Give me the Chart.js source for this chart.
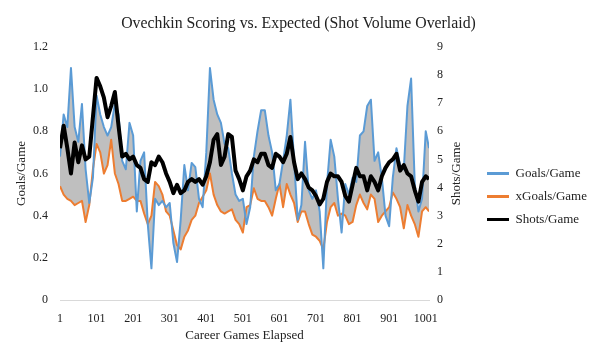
<!DOCTYPE html>
<html>
<head>
<meta charset="utf-8">
<script src="https://cdn.jsdelivr.net/npm/chart.js@4.4.1/dist/chart.umd.min.js"></script>
<style>
  html, body { margin: 0; padding: 0; background: #fff; }
  #wrap { width: 598px; height: 348px; }
</style>
</head>
<body>
<div id="wrap"><canvas id="chart"></canvas></div>
<script>
// career game number for each sample (every ~10 games)
const games = [1, 11, 21, 31, 41, 51, 61, 71, 81, 91,
  101, 111, 121, 131, 141, 151, 161, 171, 181, 191,
  201, 211, 221, 231, 241, 251, 261, 271, 281, 291,
  301, 311, 321, 331, 341, 351, 361, 371, 381, 391,
  401, 411, 421, 431, 441, 451, 461, 471, 481, 491,
  501, 511, 521, 531, 541, 551, 561, 571, 581, 591,
  601, 611, 621, 631, 641, 651, 661, 671, 681, 691,
  701, 711, 721, 731, 741, 751, 761, 771, 781, 791,
  801, 811, 821, 831, 841, 851, 861, 871, 881, 891,
  901, 911, 921, 931, 941, 951, 961, 971, 981, 991,
  1001, 1010];

const goalsPerGame = [0.68, 0.88, 0.82, 1.10, 0.82, 0.75, 0.93, 0.62, 0.46, 0.58,
  0.97, 0.88, 0.82, 0.78, 0.82, 0.93, 0.88, 0.66, 0.62, 0.84,
  0.78, 0.42, 0.66, 0.70, 0.36, 0.15, 0.48, 0.45, 0.47, 0.44,
  0.46, 0.27, 0.18, 0.38, 0.64, 0.52, 0.65, 0.63, 0.48, 0.44,
  0.70, 1.10, 0.95, 0.88, 0.84, 0.74, 0.72, 0.60, 0.50, 0.47,
  0.48, 0.36, 0.44, 0.68, 0.80, 0.90, 0.90, 0.78, 0.70, 0.52,
  0.55, 0.66, 0.78, 0.95, 0.66, 0.38, 0.45, 0.75, 0.52, 0.48,
  0.52, 0.42, 0.15, 0.55, 0.76, 0.68, 0.48, 0.32, 0.55, 0.50,
  0.58, 0.56, 0.78, 0.80, 0.92, 0.95, 0.66, 0.70, 0.58, 0.40,
  0.35, 0.58, 0.72, 0.64, 0.62, 0.92, 1.05, 0.55, 0.42, 0.48,
  0.80, 0.72];

const xGoalsPerGame = [0.54, 0.50, 0.48, 0.47, 0.45, 0.46, 0.47, 0.37, 0.45, 0.62,
  0.74, 0.70, 0.60, 0.64, 0.76, 0.60, 0.55, 0.47, 0.47, 0.48,
  0.49, 0.47, 0.47, 0.41, 0.36, 0.40, 0.56, 0.54, 0.50, 0.42,
  0.40, 0.33, 0.26, 0.24, 0.30, 0.33, 0.38, 0.40, 0.46, 0.49,
  0.52, 0.60, 0.50, 0.45, 0.42, 0.41, 0.42, 0.43, 0.38, 0.36,
  0.32, 0.44, 0.45, 0.53, 0.48, 0.47, 0.47, 0.44, 0.40, 0.48,
  0.55, 0.44, 0.55, 0.50, 0.46, 0.37, 0.42, 0.42, 0.36, 0.31,
  0.30, 0.28, 0.24, 0.37, 0.44, 0.46, 0.40, 0.41, 0.40, 0.36,
  0.37, 0.45, 0.50, 0.46, 0.43, 0.50, 0.48, 0.37, 0.40, 0.42,
  0.44, 0.51, 0.48, 0.44, 0.34, 0.45, 0.40, 0.36, 0.30, 0.42,
  0.44, 0.42];

const shotsPerGame = [5.4, 6.2, 5.4, 4.5, 5.6, 4.9, 5.5, 5.0, 5.1, 6.5,
  7.9, 7.6, 7.2, 6.5, 6.9, 7.4, 6.2, 5.1, 5.2, 5.0,
  5.1, 4.8, 4.7, 4.3, 4.2, 4.9, 4.8, 5.1, 4.9, 4.5,
  4.2, 3.8, 4.1, 3.8, 3.9, 4.2, 4.3, 4.2, 4.3, 4.1,
  4.4, 4.9, 5.7, 5.9, 4.8, 5.1, 5.9, 5.8, 4.6, 4.3,
  3.9, 4.4, 4.6, 5.0, 4.9, 5.2, 5.2, 4.8, 4.7, 5.2,
  5.1, 4.9, 5.2, 5.8, 4.9, 4.3, 4.5, 4.3, 4.0, 3.9,
  3.7, 3.4, 3.6, 4.2, 4.5, 4.4, 4.4, 4.2, 3.7, 3.5,
  4.1, 4.7, 4.4, 4.4, 3.9, 4.4, 4.2, 3.9, 4.4, 4.7,
  4.9, 5.0, 5.2, 4.6, 4.8, 4.5, 4.4, 3.9, 3.5, 4.2,
  4.4, 4.3];

const gameTicks = [1, 101, 201, 301, 401, 501, 601, 701, 801, 901, 1001];

const serif = "'Liberation Serif', 'DejaVu Serif', serif";
const textColor = '#222';

function pts(values) {
  return games.map((g, i) => ({ x: g, y: values[i] }));
}

// right axis title reads bottom-to-top like the left one
const rightTitle = {
  id: 'rightTitle',
  afterDraw(chart) {
    const ctx = chart.ctx;
    const area = chart.chartArea;
    ctx.save();
    ctx.translate(area.right + 28, (area.top + area.bottom) / 2);
    ctx.rotate(-Math.PI / 2);
    ctx.font = "13px " + serif;
    ctx.fillStyle = textColor;
    ctx.textAlign = 'center';
    ctx.textBaseline = 'middle';
    ctx.fillText('Shots/Game', 0, 0);
    ctx.restore();
  }
};

new Chart(document.getElementById('chart'), {
  type: 'line',
  data: {
    datasets: [
      {
        label: 'Goals/Game',
        data: pts(goalsPerGame),
        borderColor: '#5B9BD5',
        backgroundColor: '#BFBFBF',
        borderWidth: 2,
        fill: 1,
        yAxisID: 'y',
        order: 1
      },
      {
        label: 'xGoals/Game',
        data: pts(xGoalsPerGame),
        borderColor: '#ED7D31',
        backgroundColor: '#ED7D31',
        borderWidth: 2,
        fill: false,
        yAxisID: 'y',
        order: 2
      },
      {
        label: 'Shots/Game',
        data: pts(shotsPerGame),
        borderColor: '#000000',
        backgroundColor: '#000000',
        borderWidth: 4,
        fill: false,
        yAxisID: 'y2',
        order: 0
      }
    ]
  },
  options: {
    responsive: true,
    maintainAspectRatio: false,
    animation: false,
    devicePixelRatio: 1,
    layout: { padding: { left: 0, right: 1, top: 0, bottom: 0 } },
    elements: {
      point: { radius: 0, hoverRadius: 0 },
      line: { tension: 0, borderJoinStyle: 'round' }
    },
    plugins: {
      filler: { drawTime: 'beforeDatasetsDraw' },
      tooltip: { enabled: false },
      title: {
        display: true,
        text: 'Ovechkin Scoring vs. Expected (Shot Volume Overlaid)',
        color: textColor,
        font: { family: serif, size: 15.8, weight: 'normal' },
        padding: { top: 14, bottom: 14 }
      },
      legend: {
        position: 'right',
        maxWidth: 140,
        title: {
          display: true,
          text: ' ',
          font: { family: serif, size: 13 },
          padding: 14.7
        },
        labels: {
          color: textColor,
          font: { family: serif, size: 13 },
          boxWidth: 22,
          boxHeight: 3,
          padding: 10,
          sort: (a, b) => a.datasetIndex - b.datasetIndex,
          generateLabels(chart) {
            const items = Chart.defaults.plugins.legend.labels.generateLabels(chart);
            items.forEach(it => {
              it.fillStyle = it.strokeStyle;
              it.lineWidth = 0;
            });
            return items;
          }
        }
      }
    },
    scales: {
      x: {
        type: 'linear',
        min: 1,
        max: 1010,
        afterBuildTicks(scale) {
          scale.ticks = gameTicks.map(v => ({ value: v }));
        },
        afterFit(scale) { scale.height = 48; },
        grid: { display: false, drawTicks: false },
        border: { display: true, color: '#D9D9D9', width: 1 },
        ticks: {
          autoSkip: false,
          maxRotation: 0,
          padding: 12,
          color: textColor,
          font: { family: serif, size: 12 },
          callback: v => String(v)
        },
        title: {
          display: true,
          text: 'Career Games Elapsed',
          color: textColor,
          font: { family: serif, size: 13 },
          padding: { top: 0, bottom: 5 }
        }
      },
      y: {
        position: 'left',
        min: 0,
        max: 1.2,
        afterFit(scale) { scale.width = 60; },
        grid: { display: false, drawTicks: false },
        border: { display: false },
        ticks: {
          stepSize: 0.2,
          padding: 12,
          color: textColor,
          font: { family: serif, size: 12 }
        },
        title: {
          display: true,
          text: 'Goals/Game',
          color: textColor,
          font: { family: serif, size: 13 },
          padding: { top: 14, bottom: 0 }
        }
      },
      y2: {
        position: 'right',
        min: 0,
        max: 9,
        afterFit(scale) { scale.width = 48; },
        grid: { display: false, drawTicks: false },
        border: { display: false },
        ticks: {
          stepSize: 1,
          padding: 8,
          color: textColor,
          font: { family: serif, size: 12 }
        }
      }
    }
  },
  plugins: [rightTitle]
});
</script>
</body>
</html>
